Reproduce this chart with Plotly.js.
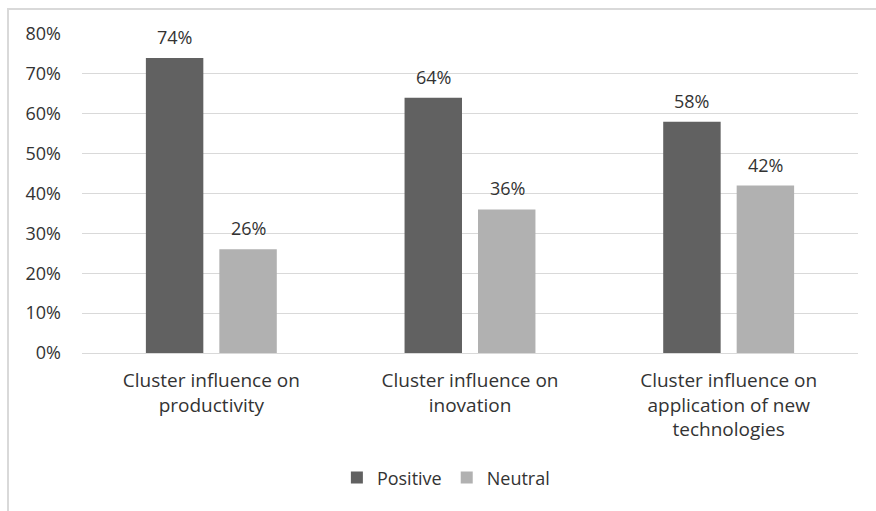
<!DOCTYPE html>
<html>
<head>
<meta charset="utf-8">
<script src="https://cdn.plot.ly/plotly-3.0.1.min.js"></script>
<style>
html,body{margin:0;padding:0;background:#fff;overflow:hidden;}
#frame{position:absolute;left:7px;top:8px;width:900px;height:600px;border-left:2px solid #d9d9d9;border-top:2px solid #d9d9d9;box-sizing:border-box;}
#chart{position:absolute;left:0;top:0;width:876px;height:511px;}
</style>
</head>
<body>
<div id="frame"></div>
<div id="chart"></div>
<script>
const categories = ["Cluster influence on<br>productivity", "Cluster influence on<br>inovation", "Cluster influence on<br>application of new<br>technologies"];
const seriesNames = ["Positive", "Neutral"];
const positive = [0.74, 0.64, 0.58];
const neutral = [0.26, 0.36, 0.42];
const yTicks = [0, 0.1, 0.2, 0.3, 0.4, 0.5, 0.6, 0.7, 0.8];
const yTickLabels = ["0%", "10%", "20%", "30%", "40%", "50%", "60%", "70%", "80%"];

const colors = ["#616161", "#b1b1b1"];
const font = "Open Sans, Noto Sans, sans-serif";
const txtColor = "#333333";
const fs = 18;
const allSeries = [positive, neutral];

const traces = allSeries.map((vals, i) => ({
  type: "bar",
  name: seriesNames[i],
  x: categories,
  y: vals,
  marker: {color: colors[i]},
  hoverinfo: "none"
}));

const annotations = [];
allSeries.forEach((vals, i) => {
  vals.forEach((v, j) => {
    annotations.push({
      x: j, y: v, xref: "x", yref: "y",
      text: Math.round(v * 100) + "%",
      showarrow: false,
      yanchor: "bottom",
      xshift: (i === 0 ? -37 : 37),
      yshift: 7,
      font: {family: font, size: fs, color: txtColor}
    });
  });
});

const layout = {
  width: 876, height: 511,
  paper_bgcolor: "rgba(0,0,0,0)",
  plot_bgcolor: "rgba(0,0,0,0)",
  margin: {l: 82, r: 18, t: 34, b: 158, autoexpand: false},
  barmode: "group",
  bargap: 0.432,
  bargroupgap: 0.218,
  font: {family: font, size: fs, color: txtColor},
  xaxis: {
    type: "category",
    showgrid: false,
    showline: true,
    linecolor: "#d9d9d9",
    linewidth: 1,
    ticks: "",
    automargin: false,
    tickfont: {family: font, size: 19, color: txtColor},
    ticklabelstandoff: 10
  },
  yaxis: {
    range: [0, 0.8],
    tickvals: yTicks,
    ticktext: yTickLabels,
    showgrid: true,
    gridcolor: "#d9d9d9",
    gridwidth: 1,
    zeroline: false,
    showline: false,
    ticks: "",
    automargin: false,
    ticklabelstandoff: 20,
    tickfont: {family: font, size: fs, color: txtColor}
  },
  showlegend: true,
  legend: {
    orientation: "h",
    x: 0.509, xanchor: "center", xref: "container",
    y: 0.065, yanchor: "middle", yref: "container",
    font: {family: font, size: fs, color: txtColor},
    itemwidth: 20,
    traceorder: "normal"
  },
  annotations: annotations
};

Plotly.newPlot("chart", traces, layout, {displayModeBar: false, staticPlot: true});
</script>
</body>
</html>
